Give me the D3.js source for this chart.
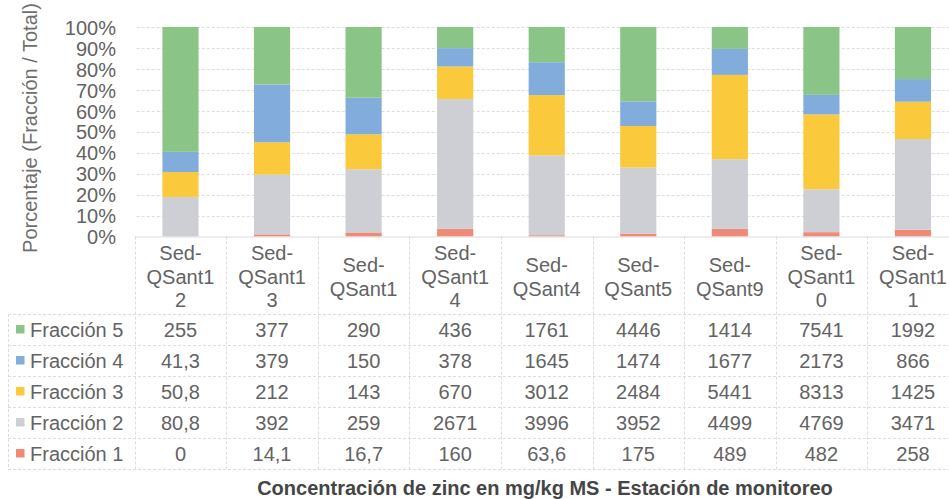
<!DOCTYPE html>
<html>
<head>
<meta charset="utf-8">
<script src="https://cdn.jsdelivr.net/npm/d3@7"></script>
<style>
  html, body { margin: 0; padding: 0; background: #ffffff; }
  svg { display: block; font-family: Arial, "Liberation Sans", sans-serif; }
</style>
</head>
<body>
<svg id="chart" width="949" height="499"></svg>
<script>
// ---- data ----
const categories = ["Sed-QSant12", "Sed-QSant13", "Sed-QSant1", "Sed-QSant14", "Sed-QSant4", "Sed-QSant5", "Sed-QSant9", "Sed-QSant10", "Sed-QSant11"];
const seriesNames = ["Fracción 1", "Fracción 2", "Fracción 3", "Fracción 4", "Fracción 5"];
const fraccion1 = [0, 14.1, 16.7, 160, 63.6, 175, 489, 482, 258];
const fraccion2 = [80.8, 392, 259, 2671, 3996, 3952, 4499, 4769, 3471];
const fraccion3 = [50.8, 212, 143, 670, 3012, 2484, 5441, 8313, 1425];
const fraccion4 = [41.3, 379, 150, 378, 1645, 1474, 1677, 2173, 866];
const fraccion5 = [255, 377, 290, 436, 1761, 4446, 1414, 7541, 1992];
const yTicks = [0, 0.1, 0.2, 0.3, 0.4, 0.5, 0.6, 0.7, 0.8, 0.9, 1];
const colors = ["#f08a78", "#cdcfd4", "#fbca3c", "#82acdc", "#8bc487"];
const yTitle = "Porcentaje (Fracción / Total)";
const xTitle = "Concentración de zinc en mg/kg MS - Estación de monitoreo";

const seriesValues = [fraccion1, fraccion2, fraccion3, fraccion4, fraccion5];

// ---- layout ----
const svg = d3.select("#chart");
const plotLeft = 134.7, colW = 91.56;
const plotRight = plotLeft + colW * categories.length;
const yTop = 27, yBottom = 236.5;
const headerBottom = 314, rowH = 31;
const textColor = "#636363";
const gridColor = "#dcdcdc";

const x = d3.scaleBand().domain(categories).range([plotLeft, plotRight]).paddingInner(0.605).paddingOuter(0.3025);
const y = d3.scaleLinear().domain([0, 1]).range([yBottom, yTop]);

// table rows top->bottom: Fracción 5 ... Fracción 1
const rowOrder = [4, 3, 2, 1, 0];
const rowScale = d3.scaleBand().domain(rowOrder).range([headerBottom, headerBottom + rowH * rowOrder.length]);

// gridlines
svg.append("g").selectAll("line").data(yTicks.filter(t => t > 0)).join("line")
  .attr("x1", plotLeft + 2).attr("x2", 949)
  .attr("y1", d => Math.round(y(d)) + 0.5).attr("y2", d => Math.round(y(d)) + 0.5)
  .attr("stroke", gridColor).attr("stroke-width", 1).attr("stroke-dasharray", "3,2");

// stacked data (100%)
const rows = categories.map((c, i) => {
  const o = { cat: c };
  const total = d3.sum(seriesValues, s => s[i]);
  seriesValues.forEach((s, k) => { o["s" + k] = s[i] / total; });
  return o;
});
const stack = d3.stack().keys(seriesValues.map((s, k) => "s" + k));
const stacked = stack(rows);

svg.append("g").selectAll("g").data(stacked).join("g")
  .attr("fill", (d, k) => colors[k])
  .selectAll("rect").data(d => d).join("rect")
  .attr("x", d => x(d.data.cat))
  .attr("width", x.bandwidth())
  .attr("y", d => y(d[1]))
  .attr("height", d => Math.max(0, y(d[0]) - y(d[1])));

// y axis labels
const yAxis = d3.axisLeft(y).tickValues(yTicks).tickFormat(d3.format(".0%")).tickSize(0).tickPadding(0);
const yg = svg.append("g").attr("transform", `translate(116,0)`).call(yAxis);
yg.select(".domain").remove();
yg.selectAll("text").attr("font-size", 20).attr("fill", textColor).attr("font-family", "Arial, 'Liberation Sans', sans-serif").attr("dy", "0.36em");

// y title
svg.append("text")
  .attr("transform", `translate(37,128) rotate(-90)`)
  .attr("text-anchor", "middle")
  .attr("font-size", 20).attr("fill", "#6e6e6e")
  .text(yTitle);

// axis baseline
svg.append("line").attr("x1", plotLeft).attr("x2", 949)
  .attr("y1", yBottom + 0.5).attr("y2", yBottom + 0.5)
  .attr("stroke", gridColor).attr("stroke-width", 1);

// table grid: vertical lines at column boundaries
const bounds = d3.range(categories.length + 1).map(i => plotLeft + i * colW);
svg.append("g").selectAll("line").data(bounds).join("line")
  .attr("x1", d => Math.round(d) + 0.5).attr("x2", d => Math.round(d) + 0.5)
  .attr("y1", yBottom).attr("y2", headerBottom + rowH * 5)
  .attr("stroke", gridColor).attr("stroke-width", 1).attr("stroke-dasharray", "3,2");

// table horizontal lines
const hLines = d3.range(rowOrder.length + 1).map(i => headerBottom + i * rowH);
svg.append("g").selectAll("line").data(hLines).join("line")
  .attr("x1", 8).attr("x2", 949)
  .attr("y1", d => d + 0.5).attr("y2", d => d + 0.5)
  .attr("stroke", gridColor).attr("stroke-width", 1).attr("stroke-dasharray", "3,2");
// legend column left border
svg.append("line").attr("x1", 8.5).attr("x2", 8.5)
  .attr("y1", headerBottom).attr("y2", headerBottom + rowH * 5)
  .attr("stroke", gridColor).attr("stroke-dasharray", "3,2");

// header labels (wrapped like the original)
function wrapLabel(s) {
  const i = s.indexOf("-");
  const first = s.slice(0, i + 1);
  const rest = s.slice(i + 1);
  const lines = [first];
  if (rest.length > 6) { lines.push(rest.slice(0, 6)); lines.push(rest.slice(6)); }
  else lines.push(rest);
  return lines;
}
const lineH = 23.5;
const headG = svg.append("g");
categories.forEach(c => {
  const lines = wrapLabel(c);
  const cx = x(c) + x.bandwidth() / 2;
  const t = headG.append("text").attr("text-anchor", "middle").attr("font-size", 20).attr("fill", textColor);
  lines.forEach((l, j) => {
    t.append("tspan").attr("x", cx).attr("y", (lines.length === 3 ? 260 : 272) + j * lineH).text(l);
  });
});

// value cells
const formatVal = v => (Math.round(v) === v ? String(v) : String(v).replace(".", ","));
rowOrder.forEach(k => {
  const cy = rowScale(k) + rowH / 2;
  // legend key
  svg.append("rect").attr("x", 16).attr("y", cy - 4.5).attr("width", 8.5).attr("height", 8.5).attr("fill", colors[k]);
  svg.append("text").attr("x", 30).attr("y", cy + 7).attr("font-size", 20).attr("fill", textColor).text(seriesNames[k]);
  svg.append("g").selectAll("text").data(categories).join("text")
    .attr("x", c => x(c) + x.bandwidth() / 2)
    .attr("y", cy + 7)
    .attr("text-anchor", "middle").attr("font-size", 20).attr("fill", textColor)
    .text((c, i) => formatVal(seriesValues[k][i]));
});

// x title
svg.append("text").attr("x", 545).attr("y", 495).attr("text-anchor", "middle")
  .attr("font-size", 20).attr("font-weight", "bold").attr("fill", "#454545")
  .text(xTitle);
</script>
</body>
</html>
